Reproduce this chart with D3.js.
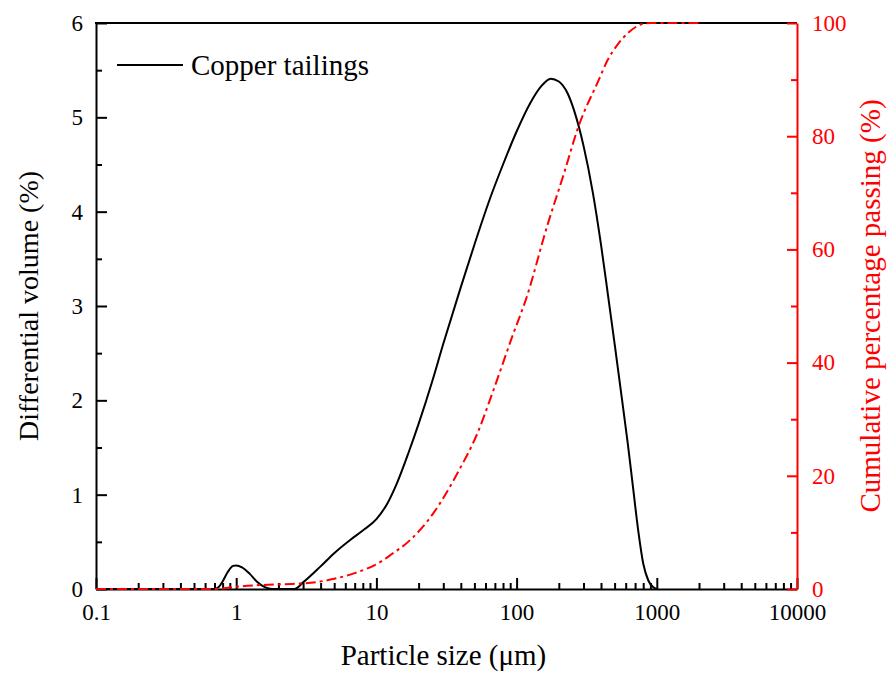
<!DOCTYPE html>
<html>
<head>
<meta charset="utf-8">
<script src="https://cdn.jsdelivr.net/npm/d3@7"></script>
<style>
  html, body { margin: 0; padding: 0; background: #fff; }
  svg { display: block; font-family: "Liberation Serif", "Times New Roman", serif; }
</style>
</head>
<body>
<svg id="chart" width="889" height="673"></svg>
<script>
// Particle size distribution of copper tailings (laser diffraction)
const seriesName = "Copper tailings";

// Differential volume (%) versus particle size (µm)
const diffSize = [0.1, 0.7, 0.75, 0.8, 0.87, 0.95, 1.0, 1.1, 1.25, 1.4, 1.6, 1.8, 2.6, 3, 4, 5, 6.5, 8, 10, 12, 14, 17, 20, 25, 30, 40, 50, 65, 80, 100, 125, 150, 175, 200, 230, 260, 300, 350, 400, 450, 500, 560, 620, 680, 740, 800, 870, 940, 1000];
const diffVolume = [0, 0, 0.02, 0.08, 0.18, 0.245, 0.25, 0.23, 0.16, 0.08, 0.02, 0, 0, 0.07, 0.24, 0.38, 0.52, 0.62, 0.74, 0.91, 1.12, 1.45, 1.75, 2.2, 2.6, 3.2, 3.65, 4.15, 4.5, 4.85, 5.15, 5.33, 5.41, 5.38, 5.26, 5.05, 4.7, 4.2, 3.65, 3.1, 2.6, 2.05, 1.55, 1.05, 0.6, 0.27, 0.09, 0.02, 0];

// Cumulative percentage passing (%) versus particle size (µm)
const cumSize = [0.1, 0.7, 0.8, 1.0, 1.5, 2.5, 3.4, 5, 7, 10.7, 12.6, 17.5, 25.5, 37.9, 52.7, 68.5, 95, 116, 166, 217, 277, 385, 447, 530, 621, 720, 807, 900, 2000];
const cumPassing = [0, 0, 0.1, 0.4, 0.7, 0.9, 1.1, 1.8, 2.8, 4.8, 6, 8.7, 13.4, 20.5, 27.6, 35.2, 45.2, 51, 64.3, 73.3, 81.8, 89.9, 93.5, 96.3, 98.2, 99.4, 99.9, 100, 100];

// Axis ticks
const xMajorTicks = [0.1, 1, 10, 100, 1000, 10000];
const xTickLabels = ["0.1", "1", "10", "100", "1000", "10000"];
const yLeftTicks = [0, 1, 2, 3, 4, 5, 6];
const yRightTicks = [0, 20, 40, 60, 80, 100];

const FONT = "'Liberation Serif', 'Times New Roman', serif";
const svg = d3.select("#chart");
const plot = { left: 96, right: 797, top: 23, bottom: 589 };

const x = d3.scaleLog().domain([0.1, 10000]).range([plot.left, plot.right]);
const yL = d3.scaleLinear().domain([0, 6]).range([plot.bottom, plot.top]);
const yR = d3.scaleLinear().domain([0, 100]).range([plot.bottom, plot.top]);

const xMinorTicks = [];
for (let e = -1; e < 4; e++) {
  for (let m = 2; m <= 9; m++) xMinorTicks.push(m * Math.pow(10, e));
}
const yLeftMinor = d3.range(0.5, 6, 1);
const yRightMinor = d3.range(10, 100, 20);

function styleAxis(g, color) {
  g.attr("font-family", FONT);
  g.selectAll("path.domain").attr("stroke", color).attr("stroke-width", 2);
  g.selectAll(".tick line").attr("stroke", color).attr("stroke-width", 2);
  g.selectAll(".tick text").attr("fill", color).attr("font-size", 23)
    .attr("font-family", FONT);
}

// Top frame line
svg.append("line")
  .attr("x1", plot.left - 1).attr("x2", plot.right)
  .attr("y1", plot.top).attr("y2", plot.top)
  .attr("stroke", "#000").attr("stroke-width", 2);

// Bottom axis (log)
const gx = svg.append("g").attr("transform", `translate(0,${plot.bottom})`);
gx.call(d3.axisBottom(x).tickValues(xMajorTicks)
  .tickFormat((d, i) => xTickLabels[i])
  .tickSizeInner(-11).tickSizeOuter(0).tickPadding(15));
styleAxis(gx, "#000");
const gxm = svg.append("g").attr("transform", `translate(0,${plot.bottom})`);
gxm.call(d3.axisBottom(x).tickValues(xMinorTicks).tickFormat("")
  .tickSizeInner(-6).tickSizeOuter(0));
gxm.select("path.domain").remove();
styleAxis(gxm, "#000");

// Left axis
const gyl = svg.append("g").attr("transform", `translate(${plot.left},0)`);
gyl.call(d3.axisLeft(yL).tickValues(yLeftTicks).tickFormat(d3.format("d"))
  .tickSizeInner(-11).tickSizeOuter(0).tickPadding(13));
styleAxis(gyl, "#000");
const gylm = svg.append("g").attr("transform", `translate(${plot.left},0)`);
gylm.call(d3.axisLeft(yL).tickValues(yLeftMinor).tickFormat("")
  .tickSizeInner(-6).tickSizeOuter(0));
gylm.select("path.domain").remove();
styleAxis(gylm, "#000");

// Curves
const diffLine = d3.line()
  .x(d => x(d[0])).y(d => yL(d[1]))
  .curve(d3.curveMonotoneX);
svg.append("path")
  .datum(d3.zip(diffSize, diffVolume))
  .attr("d", diffLine)
  .attr("fill", "none").attr("stroke", "#000").attr("stroke-width", 2);

const cumLine = d3.line()
  .x(d => x(d[0])).y(d => yR(d[1]))
  .curve(d3.curveMonotoneX);
svg.append("path")
  .datum(d3.zip(cumSize, cumPassing))
  .attr("d", cumLine)
  .attr("fill", "none").attr("stroke", "#ff0000").attr("stroke-width", 2)
  .attr("stroke-dasharray", "10,4,3,4");

// Right axis (red)
const gyr = svg.append("g").attr("transform", `translate(${plot.right},0)`);
gyr.call(d3.axisRight(yR).tickValues(yRightTicks).tickFormat(d3.format("d"))
  .tickSizeInner(-10).tickSizeOuter(0).tickPadding(15));
styleAxis(gyr, "#ff0000");
const gyrm = svg.append("g").attr("transform", `translate(${plot.right},0)`);
gyrm.call(d3.axisRight(yR).tickValues(yRightMinor).tickFormat("")
  .tickSizeInner(-6).tickSizeOuter(0));
gyrm.select("path.domain").remove();
styleAxis(gyrm, "#ff0000");

// Axis titles
svg.append("text")
  .attr("x", 443.5).attr("y", 665)
  .attr("text-anchor", "middle").attr("font-size", 29).attr("fill", "#000")
  .attr("font-family", FONT)
  .text("Particle size (\u03bcm)");

svg.append("text")
  .attr("transform", `translate(38,${(plot.top + plot.bottom) / 2}) rotate(-90)`)
  .attr("text-anchor", "middle").attr("font-size", 28).attr("fill", "#000")
  .attr("font-family", FONT)
  .text("Differential volume (%)");

svg.append("text")
  .attr("transform", `translate(880,${(plot.top + plot.bottom) / 2}) rotate(-90)`)
  .attr("text-anchor", "middle").attr("font-size", 29).attr("fill", "#ff0000")
  .attr("font-family", FONT)
  .text("Cumulative percentage passing (%)");

// Legend
const legend = svg.append("g").attr("transform", "translate(117,65)");
legend.append("line").attr("x1", 0).attr("x2", 66).attr("y1", 0).attr("y2", 0)
  .attr("stroke", "#000").attr("stroke-width", 2);
legend.append("text").attr("x", 74).attr("y", 10)
  .attr("font-size", 29).attr("fill", "#000").attr("font-family", FONT)
  .text(seriesName);
</script>
</body>
</html>
